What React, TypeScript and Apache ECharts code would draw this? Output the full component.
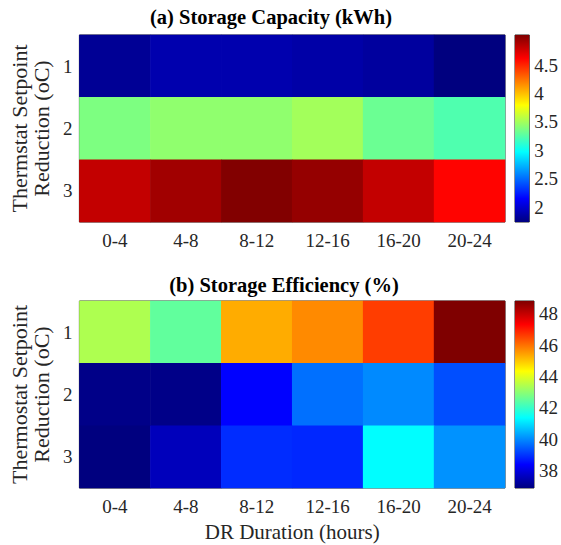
import React, { useEffect, useRef } from 'react';
import * as echarts from 'echarts';

const durations = ['0-4', '4-8', '8-12', '12-16', '16-20', '20-24'];
const setpoints = ['1', '2', '3'];
const capacity = [
  [1.81, 1.89, 1.89, 1.87, 1.84, 1.74],
  [3.38, 3.44, 3.44, 3.5, 3.32, 3.23],
  [4.81, 4.92, 5.02, 4.96, 4.81, 4.61],
];
const efficiency = [
  [43.4, 42.5, 45.3, 45.7, 46.6, 48.8],
  [37.0, 37.0, 38.4, 39.7, 40.0, 39.3],
  [36.9, 37.6, 38.9, 38.85, 41.35, 40.1],
];
const capTicks = [2, 2.5, 3, 3.5, 4, 4.5];
const effTicks = [38, 40, 42, 44, 46, 48];
const capRange = [1.74, 5.03];
const effRange = [36.9, 48.8];
const jet = ['#00007F', '#0000FF', '#007FFF', '#00FFFF', '#7FFF7F', '#FFFF00', '#FF7F00', '#FF0000', '#7F0000'];

const FONT = 'Liberation Serif';
const TXT = '#262626';

function toCells(m: number[][]) {
  const out: number[][] = [];
  m.forEach((row, yi) => row.forEach((v, xi) => out.push([xi, yi, v])));
  return out;
}

export default function App() {
  const ref = useRef<HTMLDivElement>(null);
  useEffect(() => {
    document.body.style.margin = '0';
    const chart = echarts.init(ref.current!, null, { renderer: 'svg' });
    const grids = [
      { left: 79, top: 35, width: 426, height: 187 },
      { left: 79, top: 301, width: 426, height: 187 },
      { left: 515, top: 35, width: 21, height: 187 },
      { left: 515, top: 301, width: 21, height: 187 },
    ].map((g) => ({ ...g, show: true, borderColor: TXT, borderWidth: 1, backgroundColor: 'transparent' }));

    const catX = (gi: number, withName: boolean) => ({
      type: 'category',
      gridIndex: gi,
      data: durations,
      position: 'bottom',
      axisLine: { show: false },
      axisTick: { show: false },
      splitLine: { show: false },
      axisLabel: { fontFamily: FONT, fontSize: 19, color: TXT, margin: 9 },
      name: withName ? 'DR Duration (hours)' : '',
      nameLocation: 'middle',
      nameGap: 33,
      nameTextStyle: { fontFamily: FONT, fontSize: 21, color: TXT },
    });
    const catY = (gi: number, name: string) => ({
      type: 'category',
      gridIndex: gi,
      data: setpoints,
      inverse: true,
      axisLine: { show: false },
      axisTick: { show: false },
      splitLine: { show: false },
      axisLabel: { fontFamily: FONT, fontSize: 19, color: TXT, margin: 7 },
      name,
      nameLocation: 'middle',
      nameRotate: 90,
      nameGap: 22,
      nameTextStyle: { fontFamily: FONT, fontSize: 22, color: TXT, lineHeight: 22 },
    });
    const cbX = (gi: number) => ({ type: 'value', gridIndex: gi, min: 0, max: 1, show: false });
    const cbY = (gi: number, range: number[], ticks: number[]) => ({
      type: 'value',
      gridIndex: gi,
      min: range[0],
      max: range[1],
      position: 'right',
      splitLine: { show: false },
      axisLine: { show: false },
      axisTick: { show: true, length: 3, inside: false, customValues: ticks, lineStyle: { color: TXT } },
      axisLabel: { customValues: ticks, fontFamily: FONT, fontSize: 19, color: TXT, margin: 5 },
    });
    const stops = jet
      .slice()
      .reverse()
      .map((c, i) => ({ offset: i / (jet.length - 1), color: c }));
    const cbSeries = (gi: number, range: number[]) => ({
      type: 'custom',
      xAxisIndex: gi,
      yAxisIndex: gi,
      data: [[0, range[0], range[1]]],
      renderItem: (_p: any, api: any) => {
        const p0 = api.coord([0, api.value(2)]);
        const p1 = api.coord([1, api.value(1)]);
        return {
          type: 'rect',
          shape: { x: p0[0], y: p0[1], width: p1[0] - p0[0], height: p1[1] - p0[1] },
          style: { fill: new echarts.graphic.LinearGradient(0, 0, 0, 1, stops) },
        };
      },
    });

    chart.setOption({
      animation: false,
      textStyle: { fontFamily: FONT },
      grid: grids,
      xAxis: [catX(0, false), catX(1, true), cbX(2), cbX(3)],
      yAxis: [
        catY(0, 'Thermstat Setpoint\nReduction (oC)'),
        catY(1, 'Thermostat Setpoint\nReduction (oC)'),
        cbY(2, capRange, capTicks),
        cbY(3, effRange, effTicks),
      ],
      visualMap: [
        { type: 'continuous', show: false, seriesIndex: 0, min: capRange[0], max: capRange[1], inRange: { color: jet } },
        { type: 'continuous', show: false, seriesIndex: 1, min: effRange[0], max: effRange[1], inRange: { color: jet } },
      ],
      graphic: [
        {
          type: 'text',
          x: 271,
          y: 17,
          style: { text: '(a) Storage Capacity (kWh)', fontFamily: FONT, fontSize: 20.5, fontWeight: 'bold', fill: '#000', textAlign: 'center', textVerticalAlign: 'middle' },
        },
        {
          type: 'text',
          x: 284,
          y: 285,
          style: { text: '(b) Storage Efficiency (%)', fontFamily: FONT, fontSize: 20.5, fontWeight: 'bold', fill: '#000', textAlign: 'center', textVerticalAlign: 'middle' },
        },
      ],
      series: [
        { type: 'heatmap', xAxisIndex: 0, yAxisIndex: 0, data: toCells(capacity), itemStyle: { borderWidth: 0 } },
        { type: 'heatmap', xAxisIndex: 1, yAxisIndex: 1, data: toCells(efficiency), itemStyle: { borderWidth: 0 } },
        cbSeries(2, capRange),
        cbSeries(3, effRange),
      ],
    });
    return () => chart.dispose();
  }, []);
  return <div ref={ref} style={{ width: 561, height: 545 }} />;
}
